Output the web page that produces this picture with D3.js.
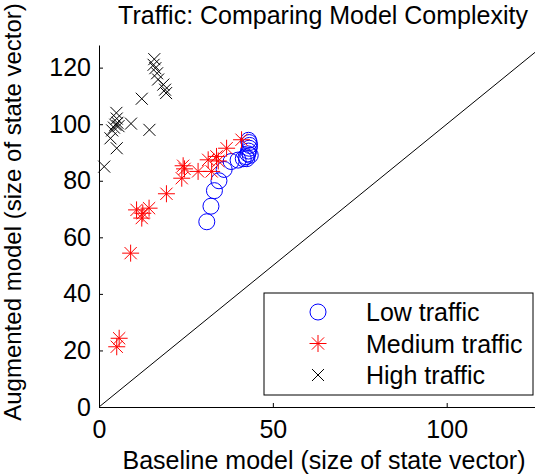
<!DOCTYPE html>
<html>
<head>
<meta charset="utf-8">
<script src="https://cdn.jsdelivr.net/npm/d3@7"></script>
<style>
  body { margin: 0; background: #fff; }
  svg { display: block; font-family: "Liberation Sans", Arial, sans-serif; }
</style>
</head>
<body>
<div class="chart"></div>
<script>
// [baseline size, augmented size]
var lowTraffic = [
  [31, 65.5], [32.2, 71], [33.2, 76.5], [34.5, 80], [36, 84], [38, 86.8],
  [40, 87.3], [41.5, 87.8], [42.3, 88.5], [42.8, 89.5], [43, 90.5],
  [43.2, 91.5], [43.3, 92.5], [43.2, 93.5], [43, 94.3], [42.5, 87.8], [43.5, 89]
];
var mediumTraffic = [
  [5.1, 21.3], [5.8, 24.3], [9.1, 54.4], [10.8, 69.7], [12.3, 66.8], [12.6, 68.5],
  [14.4, 70.3], [19.4, 75.4], [23.8, 80.9], [24.2, 85.3], [24.6, 84.2], [28.5, 83.3],
  [31.4, 87.4], [32.4, 83.3], [33.8, 88.6], [34.3, 87], [36.7, 91.5], [41, 94.5]
];
var highTraffic = [
  [1.5, 85], [3.3, 95], [3.8, 97.8], [4.3, 98.8], [4.7, 99.8], [5, 104], [5.1, 102],
  [5.3, 100.5], [5.6, 99.3], [5.1, 91.5], [9.2, 100.2], [12.3, 109], [14.5, 98],
  [15.9, 123], [15.7, 121], [16.2, 119.8], [16.7, 118], [17, 115.8], [18.5, 114],
  [19, 112.2], [19.3, 111]
];
var seriesNames = ["Low traffic", "Medium traffic", "High traffic"];
var xTicks = [0, 50, 100];
var yTicks = [0, 20, 40, 60, 80, 100, 120];

var w = 535, h = 475;
var fs = 25;
var xScale = d3.scaleLinear().domain([0, 130]).range([99, 551]);
var yScale = d3.scaleLinear().domain([0, 128]).range([407, 45]);

var svg = d3.select(".chart").append("svg")
  .attr("width", w)
  .attr("height", h);

// marker shapes
function circlePath(s) {
  return "M" + s + ",0A" + s + "," + s + " 0 1,1 " + (-s) + ",0A" + s + "," + s + " 0 1,1 " + s + ",0Z";
}
function starPath(s) {
  var d = s * 0.72;
  return "M" + (-s) + ",0L" + s + ",0M0," + (-s) + "L0," + s +
         "M" + (-d) + "," + (-d) + "L" + d + "," + d + "M" + (-d) + "," + d + "L" + d + "," + (-d);
}
function crossPath(s) {
  return "M" + (-s) + "," + (-s) + "L" + s + "," + s + "M" + (-s) + "," + s + "L" + s + "," + (-s);
}
var styles = [
  {color: "#0000ff", path: circlePath(8)},
  {color: "#ff0000", path: starPath(8.5)},
  {color: "#000000", path: crossPath(6)}
];

// clip for plot area
svg.append("clipPath").attr("id", "plotclip")
  .append("rect")
  .attr("x", xScale(0)).attr("y", yScale(128))
  .attr("width", xScale(130) - xScale(0))
  .attr("height", yScale(0) - yScale(128));

// diagonal y = x
svg.append("line")
  .attr("clip-path", "url(#plotclip)")
  .attr("x1", xScale(0)).attr("y1", yScale(0))
  .attr("x2", xScale(128)).attr("y2", yScale(128))
  .attr("stroke", "#000")
  .attr("stroke-width", 1);

[lowTraffic, mediumTraffic, highTraffic].forEach(function(data, k) {
  svg.append("g")
    .selectAll("path")
    .data(data)
    .enter()
    .append("path")
    .attr("transform", function(d) {
      return "translate(" + xScale(d[0]) + "," + yScale(d[1]) + ")";
    })
    .attr("d", styles[k].path)
    .attr("fill", "none")
    .attr("stroke", styles[k].color)
    .attr("stroke-width", 1);
});

// axes
var xAxis = d3.axisBottom(xScale).tickValues(xTicks).tickSizeInner(-4).tickSizeOuter(0).tickPadding(13);
var yAxis = d3.axisLeft(yScale).tickValues(yTicks).tickSizeInner(-4).tickSizeOuter(0).tickPadding(8);

var gx = svg.append("g")
  .attr("transform", "translate(0," + yScale(0) + ")")
  .call(xAxis);
var gy = svg.append("g")
  .attr("transform", "translate(" + xScale(0) + ",0)")
  .call(yAxis);
[gx, gy].forEach(function(g) {
  g.selectAll("text").attr("font-size", fs).attr("font-family", "Liberation Sans, Arial, sans-serif").attr("fill", "#000");
  g.selectAll("line, path").attr("stroke", "#000");
});

// titles
svg.append("text")
  .attr("x", 323).attr("y", 24)
  .attr("text-anchor", "middle")
  .attr("font-size", fs)
  .text("Traffic: Comparing Model Complexity");
svg.append("text")
  .attr("x", 324).attr("y", 469)
  .attr("text-anchor", "middle")
  .attr("font-size", fs)
  .text("Baseline model (size of state vector)");
svg.append("text")
  .attr("transform", "translate(21,212) rotate(-90)")
  .attr("text-anchor", "middle")
  .attr("font-size", 24)
  .text("Augmented model (size of state vector)");

// legend
var legend = svg.append("g");
legend.append("rect")
  .attr("x", 264).attr("y", 293)
  .attr("width", 269).attr("height", 102)
  .attr("fill", "#fff")
  .attr("stroke", "#000")
  .attr("stroke-width", 1);
seriesNames.forEach(function(name, i) {
  var yy = 312 + i * 31.5;
  legend.append("path")
    .attr("transform", "translate(318," + yy + ")")
    .attr("d", styles[i].path)
    .attr("fill", "none")
    .attr("stroke", styles[i].color);
  legend.append("text")
    .attr("x", 366).attr("y", yy + 9)
    .attr("font-size", fs)
    .text(name);
});
</script>
</body>
</html>
